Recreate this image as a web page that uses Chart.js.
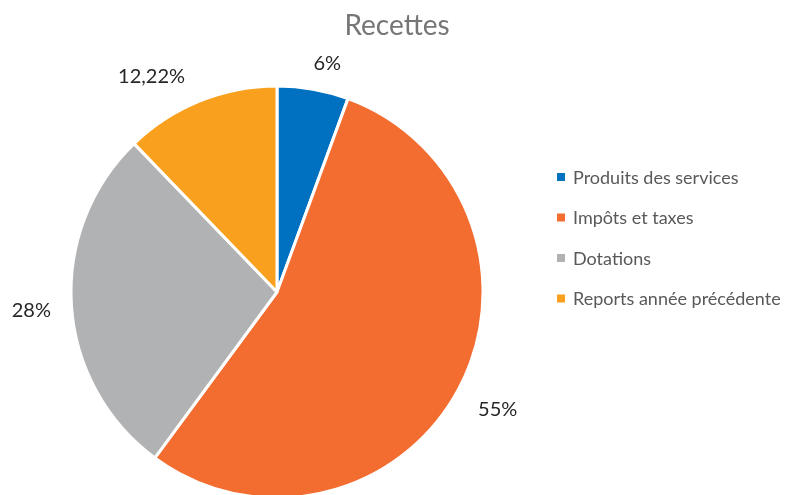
<!DOCTYPE html>
<html>
<head>
<meta charset="utf-8">
<script src="https://cdn.jsdelivr.net/npm/chart.js@4"></script>
<style>
  html, body { margin: 0; padding: 0; background: #fff; }
  #wrap { position: relative; width: 807px; height: 495px; }
</style>
</head>
<body>
<div id="wrap"><canvas id="pie" width="807" height="495"></canvas></div>
<script>
const categories = ['Produits des services', 'Impôts et taxes', 'Dotations', 'Reports année précédente'];
const values     = [5.6, 54.5, 27.7, 12.2];
const valueLabels = ['6%', '55%', '28%', '12,22%'];
const colors     = ['#0070C0', '#F36D31', '#B1B2B4', '#F9A11F'];

// small hand nudges so the labels sit where the original had them
const labelNudge = [[7, 15], [3, 1], [1, 2], [-33, 14]];

const FONT = 'Lato, "Open Sans", sans-serif';

const decorations = {
  id: 'decorations',
  afterDraw(chart) {
    const ctx = chart.ctx;
    const meta = chart.getDatasetMeta(0);
    ctx.save();

    // title
    ctx.fillStyle = '#767676';
    ctx.font = `28px ${FONT}`;
    ctx.textAlign = 'center';
    ctx.textBaseline = 'alphabetic';
    ctx.fillText('Recettes', 397, 35);

    // value labels outside each slice
    ctx.fillStyle = '#262626';
    ctx.font = `20px ${FONT}`;
    ctx.textBaseline = 'middle';
    meta.data.forEach((arc, i) => {
      const mid = (arc.startAngle + arc.endAngle) / 2;
      const d = arc.outerRadius * 1.2;
      const x = arc.x + Math.cos(mid) * d + labelNudge[i][0];
      const y = arc.y + Math.sin(mid) * d + labelNudge[i][1];
      ctx.fillText(valueLabels[i], x, y);
    });

    // legend
    ctx.font = `18px ${FONT}`;
    ctx.textAlign = 'left';
    categories.forEach((c, i) => {
      const y = 177 + i * 40.5;
      ctx.fillStyle = colors[i];
      ctx.fillRect(557, y - 4, 8, 8);
      ctx.fillStyle = '#595959';
      ctx.fillText(c, 573, y + 1);
    });
    ctx.restore();
  }
};

new Chart(document.getElementById('pie'), {
  type: 'pie',
  data: {
    labels: categories,
    datasets: [{
      data: values,
      backgroundColor: colors,
      borderColor: '#ffffff',
      borderWidth: 3,
      clip: false,
    }]
  },
  options: {
    responsive: false,
    animation: false,
    radius: 206,
    layout: { padding: { left: 72, right: 325, top: 89, bottom: 0 } },
    plugins: {
      legend: { display: false },
      title: { display: false },
      tooltip: { enabled: false }
    }
  },
  plugins: [decorations]
});
</script>
</body>
</html>
